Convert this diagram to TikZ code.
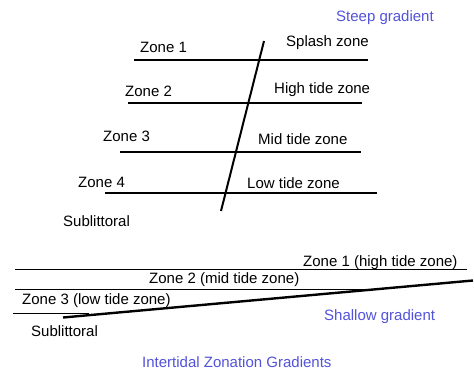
\documentclass[tikz,border=0pt]{standalone}
\usepackage{fontspec}
\setmainfont{Liberation Sans}
\definecolor{titleblue}{RGB}{82,82,218}
\begin{document}
\begin{tikzpicture}[x=1pt,y=-1pt,
  lbl/.style={anchor=base west,inner sep=0pt,font=\fontsize{15}{18}\selectfont},
  bluelbl/.style={lbl,text=titleblue},
  zoneline/.style={line width=2pt},
  thinline/.style={line width=0.9pt},
  slope/.style={line width=2.4pt}]
\useasboundingbox (0,0) rectangle (474,372);
% steep gradient
\draw[zoneline] (134,60) -- (368,60);
\draw[zoneline] (128,103) -- (362,103);
\draw[zoneline] (120,152) -- (361,152);
\draw[zoneline] (105,193) -- (377,193);
\draw[line width=2pt] (264,41) -- (221,211);
\node[bluelbl] (steep) at (336,21.7) {Steep gradient};
\node[lbl] (z1) at (140,52.7) {Zone 1};
\node[lbl] (splash) at (286,46.7) {Splash zone};
\node[lbl] (z2) at (125,96.7) {Zone 2};
\node[lbl] (high) at (274,93.3) {High tide zone};
\node[lbl] (z3) at (103,141.7) {Zone 3};
\node[lbl] (mid) at (258,144) {Mid tide zone};
\node[lbl] (z4) at (78,187.7) {Zone 4};
\node[lbl] (low) at (247,188.3) {Low tide zone};
\node[lbl] (sub1) at (63,226) {Sublittoral};
% shallow gradient
\draw[thinline] (15,269.3) -- (467,269.3);
\draw[thinline] (15,289.3) -- (381,289.3);
\draw[thinline] (13,313.3) -- (89,313.3);
\draw[slope] (63,317.5) -- (473,280.5);
\node[lbl] (b1) at (303,266.7) {Zone 1 (high tide zone)};
\node[lbl] (b2) at (149,283.3) {Zone 2 (mid tide zone)};
\node[lbl] (b3) at (22,304) {Zone 3 (low tide zone)};
\node[bluelbl] (shallow) at (324,320.7) {Shallow gradient};
\node[lbl] (sub2) at (31,336) {Sublittoral};
\node[bluelbl] (title) at (142,367.3) {Intertidal Zonation Gradients};
\end{tikzpicture}
\end{document}
